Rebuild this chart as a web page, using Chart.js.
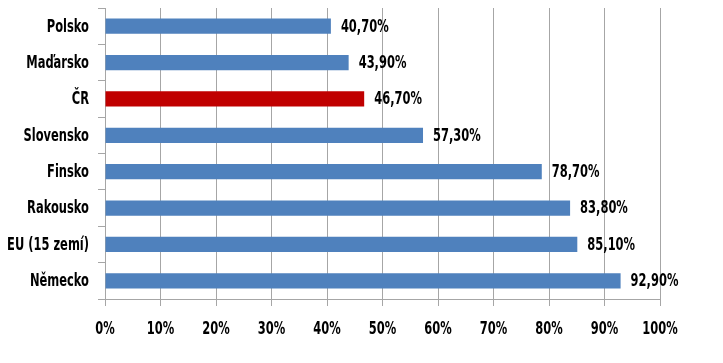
<!DOCTYPE html>
<html>
<head>
<meta charset="utf-8">
<script src="https://cdn.jsdelivr.net/npm/chart.js@4"></script>
<style>
  html, body { margin: 0; padding: 0; background: #ffffff; }
  #wrap { width: 723px; height: 363px; }
</style>
</head>
<body>
<div id="wrap"><canvas id="chart" width="723" height="363"></canvas></div>
<script>
// Data
const countries = ['Polsko', 'Maďarsko', 'ČR', 'Slovensko', 'Finsko', 'Rakousko', 'EU (15 zemí)', 'Německo'];
const shares = [40.7, 43.9, 46.7, 57.3, 78.7, 83.8, 85.1, 92.9];
const highlight = 'ČR';

const blue = '#4f81bd';
const red = '#c00000';
const fontFamily = '"DejaVu Sans Condensed", "DejaVu Sans", sans-serif';
const labelFont = 'bold 17px ' + fontFamily;
const squeeze = 0.75; // the original uses a narrow font (Calibri-like)

function narrowText(ctx, text, x, y, align) {
    ctx.save();
    ctx.translate(x, y);
    ctx.scale(squeeze, 1);
    ctx.textAlign = align;
    ctx.fillText(text, 0, 0);
    ctx.restore();
}

// Axis labels and value labels, drawn in a narrow style
const labelPlugin = {
    id: 'narrowLabels',
    afterDraw(chart) {
        const ctx = chart.ctx;
        const xs = chart.scales.x;
        const ys = chart.scales.y;
        ctx.save();
        ctx.font = labelFont;
        ctx.fillStyle = '#000000';
        ctx.textBaseline = 'middle';

        // category labels
        countries.forEach((c, i) => {
            narrowText(ctx, c, ys.right - 16, ys.getPixelForValue(i) + 1, 'right');
        });

        // percent ticks
        xs.ticks.forEach(t => {
            narrowText(ctx, t.value + '%', xs.getPixelForValue(t.value), xs.top + 31, 'center');
        });

        // value labels, e.g. "40,70%"
        const meta = chart.getDatasetMeta(0);
        meta.data.forEach((bar, i) => {
            const txt = shares[i].toFixed(2).replace('.', ',') + '%';
            narrowText(ctx, txt, bar.x + 10, bar.y + 1, 'left');
        });
        ctx.restore();
    }
};

new Chart(document.getElementById('chart'), {
    type: 'bar',
    data: {
        labels: countries,
        datasets: [{
            data: shares,
            backgroundColor: countries.map(c => c === highlight ? red : blue),
            borderWidth: 0,
            categoryPercentage: 1.0,
            barPercentage: 0.42,
        }]
    },
    plugins: [labelPlugin],
    options: {
        indexAxis: 'y',
        responsive: false,
        animation: false,
        layout: { padding: { top: 8, right: 63, bottom: 0, left: 0 } },
        plugins: {
            legend: { display: false },
            tooltip: { enabled: false }
        },
        scales: {
            x: {
                min: 0,
                max: 100,
                ticks: { stepSize: 10, display: false },
                grid: {
                    color: '#a6a6a6',
                    lineWidth: 1,
                    tickLength: 7
                },
                border: { color: '#a6a6a6' },
                afterFit(scale) { scale.height = 64; }
            },
            y: {
                ticks: { display: false },
                grid: {
                    drawOnChartArea: false,
                    color: '#a6a6a6',
                    tickLength: 7
                },
                border: { color: '#a6a6a6' },
                afterFit(scale) { scale.width = 105; }
            }
        }
    }
});
</script>
</body>
</html>
